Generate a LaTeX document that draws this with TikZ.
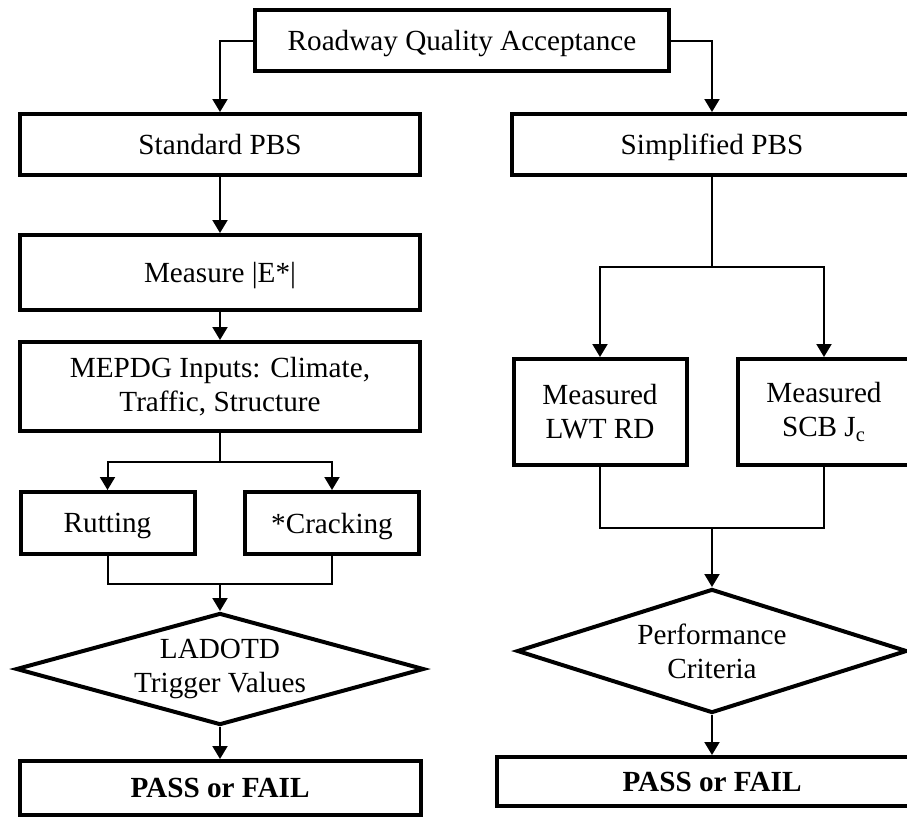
\documentclass[tikz,border=0pt]{standalone}
\usepackage{fontspec}
\setmainfont{Liberation Serif}
\usetikzlibrary{shapes.geometric,arrows.meta}
\tikzstyle{every node}=[draw=black,line width=2pt,inner sep=1mm,align=center]
\tikzstyle{wide}=[minimum width=200pt]
\tikzstyle{small}=[minimum width=87pt]
\tikzstyle{single}=[text depth=0pt]
\tikzstyle{decision}=[diamond,inner sep=0pt]
\tikzstyle{flow}=[line width=1pt,-{Triangle[width=7.5pt,length=6.5pt]}]
\tikzstyle{link}=[line width=1pt]

\begin{document}
\begin{tikzpicture}[x=0.5pt,y=-0.5pt,font=\fontsize{14.6}{17}\selectfont]
	\useasboundingbox (0,0) rectangle (907,827);
	% top
	\node[single,minimum width=207pt,minimum height=30.5pt] (top) at (462,40.5) {Roadway Quality Acceptance};
	% standard PBS column
	\node[wide,single,minimum height=30.5pt] (std) at (220,144.5) {Standard PBS};
	\node[wide,single,minimum height=37.5pt] (meas) at (220,272.5) {Measure |E*|};
	\node[wide,minimum height=44.5pt] (mepdg) at (220,386.5) {MEPDG Inputs: Climate,\\Traffic, Structure};
	\node[small,single,minimum height=31pt] (rut) at (107.5,523) {Rutting};
	\node[small,single,minimum height=31pt] (crack) at (332,523) {*Cracking};
	\node[decision,aspect=3.64,minimum width=204pt,minimum height=56pt] (trig) at (220,669) {LADOTD\\Trigger Values};
	\node[minimum width=200.5pt,minimum height=27pt] (pass1) at (220,788) {\textbf{PASS or FAIL}};
	% simplified PBS column
	\node[wide,single,minimum height=30.5pt] (simp) at (712,144.5) {Simplified PBS};
	\node[minimum width=86.5pt,minimum height=53pt] (lwt) at (600,412) {Measured\\LWT RD};
	\node[minimum width=86.5pt,minimum height=53pt] (scb) at (824,412) {Measured\\SCB J\textsubscript{c}};
	\node[decision,aspect=3.15,minimum width=195pt,minimum height=62pt] (crit) at (712,651) {Performance\\Criteria};
	\node[minimum width=215pt,minimum height=24.5pt] (pass2) at (712,781.5) {\textbf{PASS or FAIL}};
	% junctions
	\coordinate (split1) at (220,462);
	\coordinate (join1) at (220,584);
	\coordinate (split2) at (712,267);
	\coordinate (join2) at (712,528);
	% connectors
	\draw[flow] (top.west) -| (std.north);
	\draw[flow] (top.east) -| (simp.north);
	\draw[flow] (std) -- (meas);
	\draw[flow] (meas) -- (mepdg);
	\draw[link] (mepdg) -- (split1);
	\draw[flow] (split1) -| (rut.north);
	\draw[flow] (split1) -| (crack.north);
	\draw[link] (rut.south) |- (join1);
	\draw[link] (crack.south) |- (join1);
	\draw[flow] (join1) -- (trig.north);
	\draw[flow] (trig.south) -- (pass1.north);
	\draw[link] (simp) -- (split2);
	\draw[flow] (split2) -| (lwt.north);
	\draw[flow] (split2) -| (scb.north);
	\draw[link] (lwt.south) |- (join2);
	\draw[link] (scb.south) |- (join2);
	\draw[flow] (join2) -- (crit.north);
	\draw[flow] (crit.south) -- (pass2.north);
\end{tikzpicture}
\end{document}
